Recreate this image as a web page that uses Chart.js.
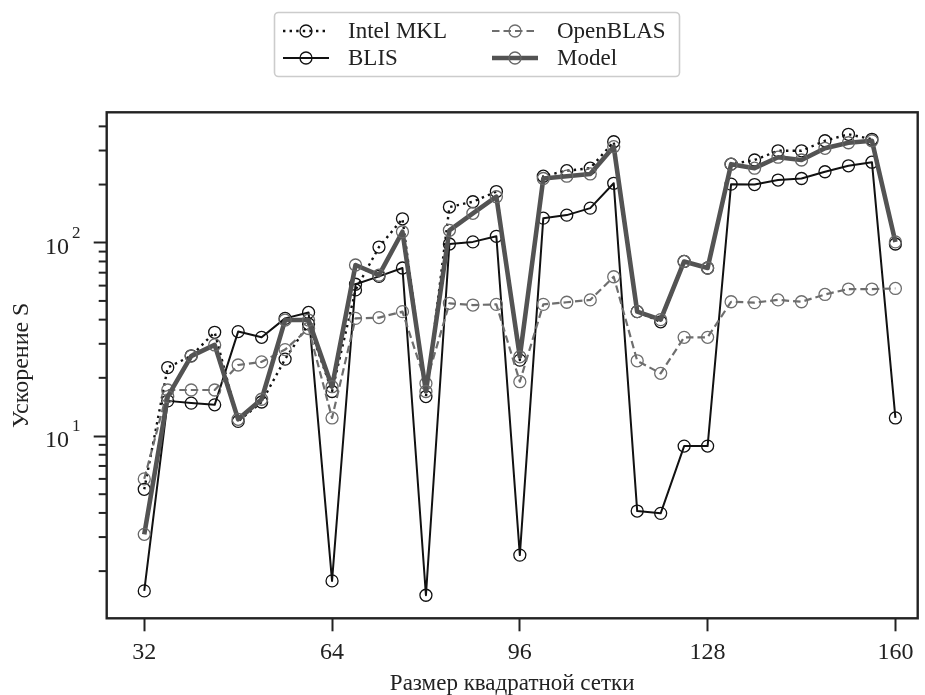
<!DOCTYPE html>
<html>
<head>
<meta charset="utf-8">
<script src="https://cdn.jsdelivr.net/npm/chart.js@4.4.0/dist/chart.umd.min.js"></script>
<style>
  html, body { margin: 0; padding: 0; background: #fff; }
  #wrap { width: 925px; height: 695px; }
</style>
</head>
<body>
<div id="wrap"><canvas id="chart" width="925" height="695"></canvas></div>
<script>
// grid sizes (x) and speedups (y)
var gridSize = [32, 36, 40, 44, 48, 52, 56, 60, 64, 68, 72, 76, 80, 84, 88, 92, 96,
                100, 104, 108, 112, 116, 120, 124, 128, 132, 136, 140, 144, 148, 152, 156, 160];

var mklSpeedup = [5.3, 22.6, 26, 34.4, 11.9, 15, 25, 38, 17, 57, 95, 133, 16, 153, 163, 184, 24.7,
                  221, 236, 243, 333, 44, 39, 80, 74, 255, 268, 299, 299, 337, 364, 343, 98.5];

var blisSpeedup = [1.58, 15.2, 14.8, 14.5, 34.7, 32.4, 40.6, 43.6, 1.78, 61, 67, 74, 1.5, 98.5, 101, 108, 2.42,
                   134, 139, 151, 203, 4.09, 3.98, 8.87, 8.87, 201, 200, 211, 215, 233, 250, 261, 12.4];

var openblasSpeedup = [6.0, 17.3, 17.3, 17.3, 23.3, 24.2, 28, 36, 12.4, 40.6, 41, 44, 18.7, 48.6, 47.6, 48, 19.1,
                       48, 49.2, 50.6, 66.7, 24.5, 21.1, 32.4, 32.4, 49.5, 49, 50.6, 49.5, 54, 57.6, 57.6, 58];

var modelSpeedup = [3.1, 16, 25.9, 29.6, 12.2, 15.5, 39.8, 39.8, 18, 76.7, 68, 114, 17, 116, 142, 173, 25.7,
                    215, 221, 227, 314, 44, 40, 80, 74, 255, 243, 277, 268, 308, 329, 337, 101];

var xTickValues = [32, 64, 96, 128, 160];
var yMajorTicks = [10, 100];
var yMinorTicks = [2, 3, 4, 5, 6, 7, 8, 9, 20, 30, 40, 50, 60, 70, 80, 90, 200, 300, 400];

var SERIF = '"Liberation Serif", "DejaVu Serif", serif';
var INK = '#222222';

function toXY(ys) {
  return gridSize.map(function (x, i) { return { x: x, y: ys[i] }; });
}

// frame, minor ticks and 10^n labels
var axesExtras = {
  id: 'axesExtras',
  afterDraw: function (chart) {
    var ctx = chart.ctx, a = chart.chartArea, ys = chart.scales.y;
    ctx.save();
    ctx.strokeStyle = INK;
    ctx.lineWidth = 2;
    yMinorTicks.forEach(function (v) {
      var py = ys.getPixelForValue(v);
      ctx.beginPath();
      ctx.moveTo(a.left - 8, py);
      ctx.lineTo(a.left, py);
      ctx.stroke();
    });
    ctx.lineWidth = 2.4;
    ctx.strokeRect(a.left, a.top, a.right - a.left, a.bottom - a.top);

    ctx.fillStyle = INK;
    yMajorTicks.forEach(function (v) {
      var py = ys.getPixelForValue(v);
      var exp = String(Math.round(Math.log10(v)));
      ctx.font = '24px ' + SERIF;
      ctx.textAlign = 'right';
      ctx.textBaseline = 'middle';
      ctx.fillText('10', 69, py + 5);
      ctx.font = '17px ' + SERIF;
      ctx.textAlign = 'left';
      ctx.fillText(exp, 72, py - 9);
    });
    ctx.restore();
  }
};

function roundBox(ctx, x, y, w, h, r) {
  ctx.beginPath();
  ctx.moveTo(x + r, y);
  ctx.arcTo(x + w, y, x + w, y + h, r);
  ctx.arcTo(x + w, y + h, x, y + h, r);
  ctx.arcTo(x, y + h, x, y, r);
  ctx.arcTo(x, y, x + w, y, r);
  ctx.closePath();
}

// two-column legend with line + marker handles
var boxLegend = {
  id: 'boxLegend',
  afterDraw: function (chart) {
    var ctx = chart.ctx;
    var colX = [283, 492];
    var rowY = [31, 58];
    ctx.save();
    roundBox(ctx, 274.5, 12.5, 405, 64, 4);
    ctx.fillStyle = '#fff';
    ctx.fill();
    ctx.strokeStyle = '#cccccc';
    ctx.lineWidth = 1.6;
    ctx.stroke();

    chart.data.datasets.forEach(function (d, i) {
      var x0 = colX[Math.floor(i / 2)], y = rowY[i % 2];
      ctx.save();
      ctx.strokeStyle = d.borderColor;
      ctx.lineWidth = d.borderWidth;
      ctx.lineCap = d.borderCapStyle || 'butt';
      ctx.setLineDash(d.borderDash || []);
      ctx.beginPath();
      ctx.moveTo(x0, y);
      ctx.lineTo(x0 + 46, y);
      ctx.stroke();
      ctx.setLineDash([]);
      ctx.lineWidth = d.pointBorderWidth;
      ctx.strokeStyle = d.pointBorderColor;
      ctx.beginPath();
      ctx.arc(x0 + 23, y, d.pointRadius, 0, Math.PI * 2);
      ctx.stroke();
      ctx.restore();

      ctx.fillStyle = INK;
      ctx.font = '23px ' + SERIF;
      ctx.textAlign = 'left';
      ctx.textBaseline = 'middle';
      ctx.fillText(d.label, x0 + 65, y + 1);
    });
    ctx.restore();
  }
};

var common = {
  fill: false,
  tension: 0,
  borderJoinStyle: 'round',
  pointStyle: 'circle',
  pointRadius: 6,
  pointHoverRadius: 6,
  pointBorderWidth: 1.3,
  pointBackgroundColor: 'rgba(0,0,0,0)'
};

new Chart(document.getElementById('chart'), {
  type: 'line',
  data: {
    datasets: [
      Object.assign({}, common, {
        label: 'Intel MKL', data: toXY(mklSpeedup),
        borderColor: '#111', borderWidth: 2.4, borderDash: [2.4, 4.2], borderCapStyle: 'butt',
        pointBorderColor: '#111', order: 4
      }),
      Object.assign({}, common, {
        label: 'BLIS', data: toXY(blisSpeedup),
        borderColor: '#111', borderWidth: 2, borderCapStyle: 'butt',
        pointBorderColor: '#111', order: 3
      }),
      Object.assign({}, common, {
        label: 'OpenBLAS', data: toXY(openblasSpeedup),
        borderColor: '#6e6e6e', borderWidth: 2.2, borderDash: [7.5, 4], borderCapStyle: 'butt',
        pointBorderColor: '#6e6e6e', order: 2
      }),
      Object.assign({}, common, {
        label: 'Model', data: toXY(modelSpeedup),
        borderColor: '#535353', borderWidth: 4.6, borderCapStyle: 'butt',
        pointBorderColor: '#666666', order: 1
      })
    ]
  },
  options: {
    responsive: false,
    animation: false,
    devicePixelRatio: 1,
    layout: { padding: { left: 0, right: 6.5, top: 112.3, bottom: 0 } },
    plugins: { legend: { display: false }, tooltip: { enabled: false } },
    scales: {
      x: {
        type: 'linear',
        min: 25.6,
        max: 163.8,
        afterBuildTicks: function (s) { s.ticks = xTickValues.map(function (v) { return { value: v }; }); },
        afterFit: function (s) { s.height = 695 - 618.3; },
        ticks: { font: { family: SERIF, size: 24 }, color: INK, padding: 7, maxRotation: 0 },
        grid: { display: true, drawOnChartArea: false, drawTicks: true, tickLength: 13, tickWidth: 2, tickColor: INK },
        border: { display: false },
        title: { display: true, text: 'Размер квадратной сетки', font: { family: SERIF, size: 23, lineHeight: 1 }, color: INK, padding: { top: 0, bottom: 0 } }
      },
      y: {
        type: 'logarithmic',
        min: 1.14,
        max: 473,
        afterBuildTicks: function (s) { s.ticks = yMajorTicks.map(function (v) { return { value: v }; }); },
        afterFit: function (s) { s.width = 106.7; },
        ticks: { display: false },
        grid: { display: true, drawOnChartArea: false, drawTicks: true, tickLength: 13, tickWidth: 2, tickColor: INK },
        border: { display: false },
        title: { display: true, text: 'Ускорение S', font: { family: SERIF, size: 24, lineHeight: 1 }, color: INK, padding: { top: 10, bottom: 0 } }
      }
    }
  },
  plugins: [axesExtras, boxLegend]
});
</script>
</body>
</html>
